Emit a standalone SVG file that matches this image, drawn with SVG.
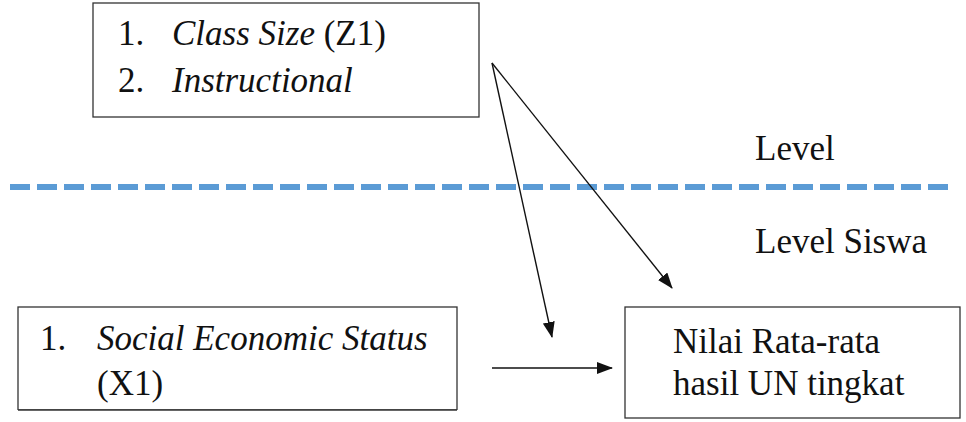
<svg xmlns="http://www.w3.org/2000/svg" width="966" height="422" viewBox="0 0 966 422">
<defs>
<style>
.box{fill:#fff;stroke:#333;stroke-width:1.3}
.t{font-family:'Liberation Serif',Tinos,'Times New Roman','DejaVu Serif',serif;font-size:35px;fill:#111}
.i{font-style:italic}
.c{stroke:#111;stroke-width:1.4;fill:none}
</style>
<marker id="ah" markerWidth="16" markerHeight="12" refX="15" refY="6" orient="auto" markerUnits="userSpaceOnUse">
<path d="M0,0 L16,6 L0,12 Z" fill="#111"/>
</marker>
</defs>
<rect width="966" height="422" fill="#fff"/>
<line x1="10" y1="187" x2="950" y2="187" stroke="#5b9bd5" stroke-width="6" stroke-dasharray="20 7"/>
<text class="t" font-family="Liberation Serif" x="755" y="160">Level</text>
<text class="t" font-family="Liberation Serif" x="755" y="253">Level Siswa</text>
<g id="school">
<rect class="box" x="93" y="3" width="386" height="114"/>
<text class="t" x="118" y="45">1.</text>
<text class="t" x="172" y="45"><tspan class="i">Class Size</tspan> (Z1)</text>
<text class="t" x="118" y="92">2.</text>
<text class="t i" x="172" y="92">Instructional</text>
</g>
<g id="student">
<rect class="box" x="18" y="307" width="439" height="103"/>
<text class="t" x="40" y="350">1.</text>
<text class="t i" x="97" y="350">Social Economic Status</text>
<text class="t" x="97" y="395">(X1)</text>
<rect x="17" y="410" width="441" height="12" fill="#fff"/>
<line x1="18" y1="410" x2="457" y2="410" stroke="#333" stroke-width="1.3"/>
</g>
<g id="outcome">
<rect class="box" x="625" y="307" width="335" height="111"/>
<text class="t" x="673" y="353">Nilai Rata-rata</text>
<text class="t" x="673" y="395">hasil UN tingkat</text>
</g>
<g id="connectors">
<line class="c" x1="492" y1="63" x2="552" y2="337" marker-end="url(#ah)"/>
<line class="c" x1="492" y1="63" x2="672" y2="288" marker-end="url(#ah)"/>
<line class="c" x1="492" y1="368" x2="612" y2="368" marker-end="url(#ah)"/>
</g>
</svg>
